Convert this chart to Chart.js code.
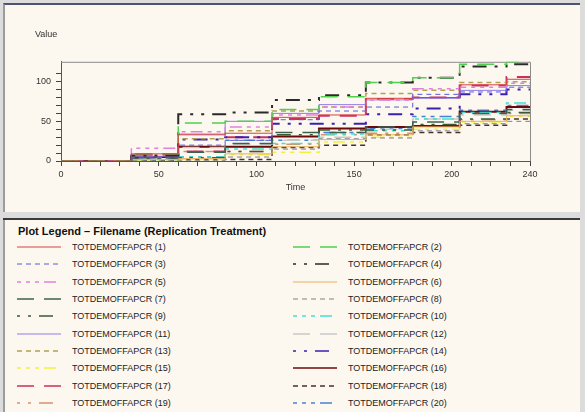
<!DOCTYPE html>
<html>
<head>
<meta charset="utf-8">
<script src="https://cdn.jsdelivr.net/npm/chart.js@4.4.0/dist/chart.umd.min.js"></script>
<style>
  body { margin: 0; width: 585px; height: 412px; background: #dcdcdc; position: relative; overflow: hidden; font-family: "Liberation Sans", Arial, sans-serif; }
  #plotPanel { position: absolute; left: 3px; top: 3px; width: 577px; height: 209px; background: #fdf8ef; border-top: 2px solid #4c5470; border-left: 2px solid #9c9c9c; box-sizing: border-box; }
  #sepLine { position: absolute; left: 3px; top: 218px; width: 577px; height: 2px; background: #3a3a3a; }
  #legendPanel { position: absolute; left: 3px; top: 220px; width: 577px; height: 192px; background: #fdf8ef; border-left: 2px solid #9c9c9c; box-sizing: border-box; }
  #chartCanvas { position: absolute; left: 0; top: 0; }
  #legendTitle { position: absolute; left: 18px; top: 225px; font-weight: bold; font-size: 11px; color: #111; white-space: nowrap; }
  .item { position: absolute; height: 12px; }
  .item svg { position: absolute; left: 0; top: 3px; }
  .item span { position: absolute; top: 0; font-size: 9px; line-height: 12px; color: #222; white-space: nowrap; }
</style>
</head>
<body>
<div id="plotPanel"></div>
<div id="sepLine"></div>
<div id="legendPanel"></div>
<canvas id="chartCanvas" width="585" height="212"></canvas>
<div id="legendTitle">Plot Legend – Filename (Replication Treatment)</div>
<div id="legendItems"></div>
<script>
// times where the values change, last one is the end of the run
const stepTimes = [0, 36, 60, 84, 108, 132, 156, 180, 204, 228, 240];

// values, one array per replication
const rep1  = [0, 9, 33, 35, 55, 58, 79, 80, 96, 103, 103];
const rep2  = [0, 9, 48, 50, 65, 81, 99, 105, 122, 125, 125];
const rep3  = [0, 4, 20, 26, 52, 63, 68, 84, 87, 93, 93];
const rep4  = [0, 7, 59, 61, 77, 83, 99, 105, 119, 122, 122];
const rep5  = [0, 16, 37, 43, 58, 68, 77, 91, 93, 98, 98];
const rep6  = [0, 2, 3, 9, 18, 27, 33, 43, 50, 57, 57];
const rep7  = [0, 4, 11, 22, 36, 36, 43, 49, 60, 65, 65];
const rep8  = [0, 1, 1, 5, 15, 28, 29, 38, 47, 50, 50];
const rep9  = [0, 3, 4, 12, 33, 39, 39, 46, 53, 61, 61];
const rep10 = [0, 2, 5, 15, 22, 34, 38, 53, 61, 73, 73];
const rep11 = [0, 6, 34, 50, 60, 71, 77, 79, 89, 95, 95];
const rep12 = [0, 3, 17, 21, 26, 30, 40, 53, 58, 64, 64];
const rep13 = [0, 4, 28, 38, 63, 68, 85, 89, 99, 100, 100];
const rep14 = [0, 3, 27, 30, 47, 47, 59, 66, 84, 90, 90];
const rep15 = [0, 1, 2, 8, 11, 24, 30, 40, 49, 56, 56];
const rep16 = [0, 5, 18, 18, 31, 41, 43, 44, 62, 68, 68];
const rep17 = [0, 8, 12, 30, 53, 57, 78, 80, 95, 106, 106];
const rep18 = [0, 0, 2, 2, 17, 20, 33, 36, 45, 53, 53];
const rep19 = [0, 2, 12, 12, 21, 33, 35, 45, 52, 60, 60];
const rep20 = [0, 5, 5, 26, 26, 36, 41, 56, 64, 70, 70];

const reps = [rep1, rep2, rep3, rep4, rep5, rep6, rep7, rep8, rep9, rep10,
              rep11, rep12, rep13, rep14, rep15, rep16, rep17, rep18, rep19, rep20];
const repNames = reps.map((r, i) => 'TOTDEMOFFAPCR (' + (i + 1) + ')');

const xTickLabels = [0, 50, 100, 150, 200, 240];
const yTickLabels = [0, 50, 100];

// line styles
const solid = [];
const longDash = [17, 10];
const shortDash = [5, 4];
const dashDot = [3, 8, 3, 8, 14, 8];
const mixDash = [4, 5, 4, 5, 4, 5, 12, 5];

const lineColors = ['#d84040', '#50d050', '#5a5ad8', '#2a2a2a', '#e080e0',
                    '#e8b060', '#3c6050', '#808080', '#3a5a3a', '#40e0d0',
                    '#8c7ce8', '#c8c8c8', '#b0a050', '#3a20b0', '#f0f040',
                    '#6a0a0a', '#c83060', '#4a3028', '#d89070', '#4a80d0'];
const lineDashes = [solid, longDash, shortDash, dashDot, mixDash,
                    solid, longDash, shortDash, dashDot, mixDash,
                    solid, longDash, shortDash, dashDot, mixDash,
                    solid, longDash, shortDash, dashDot, mixDash];
const lineWidths = [1, 1.5, 1, 2, 1.5, 1, 1.5, 1, 1.5, 1.5,
                    1, 1.5, 1.5, 2, 1.5, 2, 2, 1.5, 1.5, 1.5];

const txt = '#333';
const fontFam = '"Liberation Sans", Arial, sans-serif';

const frame = {
    id: 'frame',
    beforeDatasetsDraw(chart) {
        const a = chart.chartArea, c = chart.ctx;
        c.save();
        c.strokeStyle = '#8c8c8c';
        c.lineWidth = 1;
        c.beginPath();
        c.moveTo(a.left, a.top + 0.5);
        c.lineTo(a.right + 0.5, a.top + 0.5);
        c.lineTo(a.right + 0.5, a.bottom);
        c.stroke();
        c.restore();
    }
};

const datasets = reps.map(function (vals, i) {
    return {
        label: repNames[i],
        data: stepTimes.map((t, k) => ({ x: t, y: vals[k] })),
        borderColor: lineColors[i],
        borderDash: lineDashes[i],
        borderWidth: lineWidths[i],
        stepped: true,
        pointRadius: 0,
        fill: false
    };
});

new Chart(document.getElementById('chartCanvas'), {
    type: 'line',
    data: { datasets: datasets },
    plugins: [frame],
    options: {
        responsive: false,
        animation: false,
        layout: { padding: { left: 35, right: 55, top: 0, bottom: 15 } },
        plugins: {
            legend: { display: false },
            tooltip: { enabled: false },
            title: {
                display: true, text: 'Value', align: 'start', color: txt,
                font: { size: 9, family: fontFam, weight: 'normal' },
                padding: { top: 29, bottom: 22 }
            }
        },
        scales: {
            x: {
                type: 'linear', min: 0, max: 240,
                ticks: {
                    stepSize: 10, autoSkip: false, maxRotation: 0, padding: 3, color: txt,
                    font: { size: 9, family: fontFam },
                    callback: v => xTickLabels.includes(v) ? String(v) : ''
                },
                grid: { drawOnChartArea: false, tickLength: 5, color: '#444' },
                border: { color: '#555' },
                title: {
                    display: true, text: 'Time', color: txt,
                    font: { size: 9, family: fontFam }, padding: { top: 0, bottom: 4 }
                },
                afterFit: s => { s.height = 36; }
            },
            y: {
                min: 0, max: 125,
                ticks: {
                    stepSize: 10, autoSkip: false, padding: 5, color: txt,
                    font: { size: 9, family: fontFam },
                    callback: v => yTickLabels.includes(v) ? String(v) : ''
                },
                afterBuildTicks: s => { s.ticks = s.ticks.filter(t => t.value <= 120); },
                grid: { drawOnChartArea: false, tickLength: 5, color: '#444' },
                border: { color: '#555' },
                afterFit: s => { s.width = 26; }
            }
        }
    }
});

// legend panel: odd replications left, even right
const box = document.getElementById('legendItems');
repNames.forEach(function (name, i) {
    const col = i % 2, row = Math.floor(i / 2);
    const cy = 247 + row * 17.33;
    const item = document.createElement('div');
    item.className = 'item';
    item.style.left = (col ? 293 : 17) + 'px';
    item.style.top = (cy - 6) + 'px';
    const dash = lineDashes[i].length ? lineDashes[i].join(' ') : 'none';
    item.innerHTML = '<svg width="44" height="6"><line x1="0" y1="3" x2="44" y2="3" stroke="' + lineColors[i] +
        '" stroke-width="' + Math.min(lineWidths[i], 1.5) + '" stroke-dasharray="' + dash + '"/></svg>' +
        '<span style="left:55px">' + name + '</span>';
    box.appendChild(item);
});
</script>
</body>
</html>
